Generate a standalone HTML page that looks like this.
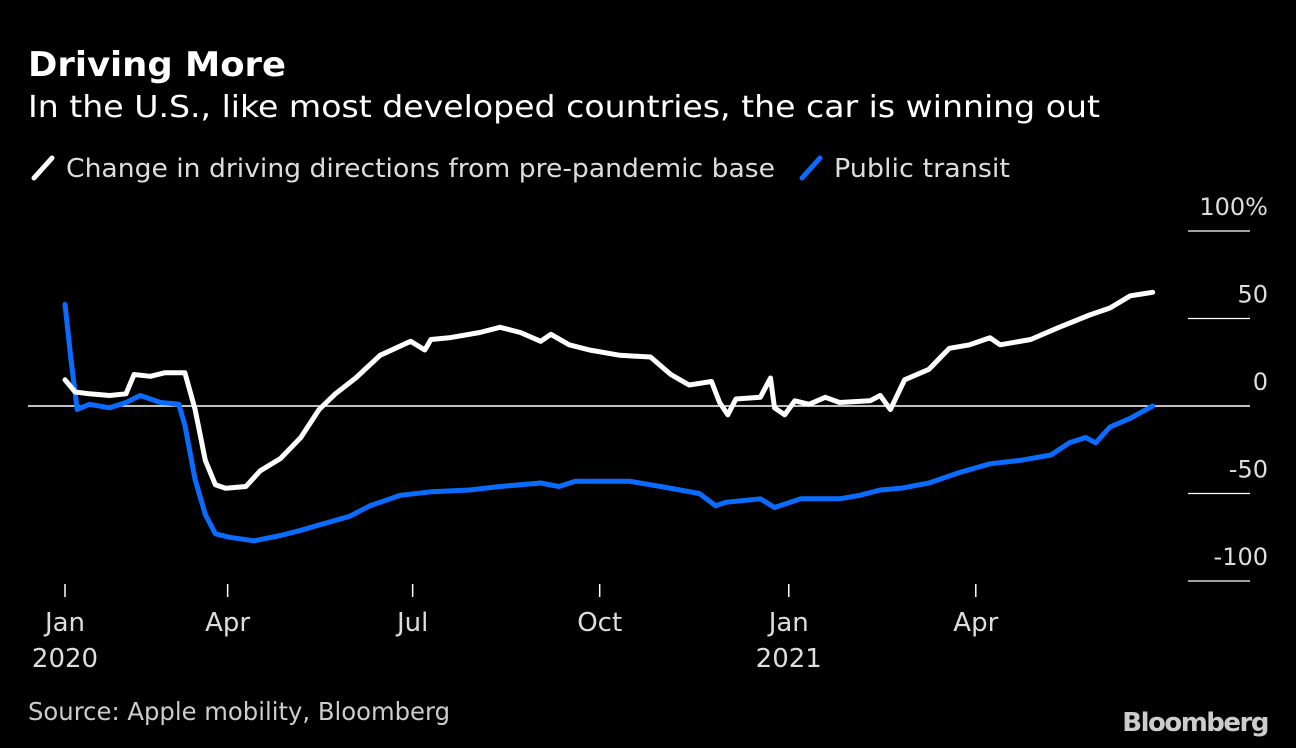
<!DOCTYPE html>
<html><head><meta charset="utf-8"><style>
body{margin:0;background:#000;width:1296px;height:748px;overflow:hidden;font-family:"DejaVu Sans","Liberation Sans",sans-serif;color:#fff}
svg{position:absolute;left:0;top:0}
</style></head><body>
<svg width="1296" height="748">
<text x="28" y="76" font-size="34" font-weight="bold" fill="#fff" textLength="258" lengthAdjust="spacingAndGlyphs">Driving More</text>
<text x="28" y="117" font-size="30" fill="#fff" textLength="1072" lengthAdjust="spacingAndGlyphs">In the U.S., like most developed countries, the car is winning out</text>
<g><line x1="34" y1="178" x2="52" y2="158" stroke="#fff" stroke-width="5" stroke-linecap="round"/><text x="66" y="177" font-size="26" fill="#ddd" textLength="709" lengthAdjust="spacingAndGlyphs">Change in driving directions from pre-pandemic base</text></g>
<g><line x1="802" y1="178" x2="820" y2="158" stroke="#0a6cff" stroke-width="5" stroke-linecap="round"/><text x="834" y="177" font-size="26" fill="#ddd" textLength="176" lengthAdjust="spacingAndGlyphs">Public transit</text></g>
<g id="axes"></g>
<g id="plot"></g>
<text x="28" y="720" font-size="25" fill="#ccc" textLength="422" lengthAdjust="spacingAndGlyphs">Source: Apple mobility, Bloomberg</text>
<text x="1268" y="731" font-size="26" font-weight="bold" fill="#ccc" text-anchor="end" letter-spacing="-1.5">Bloomberg</text>
</svg>
<script>
const yTicks=[100,50,0,-50,-100];
const yTickLabels=["100%","50","0","-50","-100"];
const xTickDays=[0,80,171,263,356,448];
const xTickLabels=["Jan","Apr","Jul","Oct","Jan","Apr"];
const xYearLabels=["2020","","","","2021",""];
const drivingDays=[0,5,12,22,30,34,42,49,59,64,69,74,79,89,96,106,116,125,133,143,155,170,177,180,189,204,214,224,234,239,248,258,273,288,298,307,318,322,326,330,342,347,349,354,359,366,374,381,396,401,406,413,425,435,445,455,460,475,489,504,514,524,535];
const drivingValues=[15,8,7,6,7,18,17,19,19,-2,-31,-45,-47,-46,-37,-30,-18,-2,7,16,29,37,32,38,39,42,45,42,37,41,35,32,29,28,18,12,14,2,-5,4,5,16,-1,-5,3,1,5,2,3,6,-2,15,21,33,35,39,35,38,45,52,56,63,65];
const transitDays=[0,3,6,12,22,30,37,47,56,59,64,69,74,81,93,106,116,125,140,150,165,180,199,214,234,243,251,278,293,312,320,325,342,349,362,381,391,401,411,425,440,455,470,485,494,502,507,514,524,535];
const transitValues=[58,26,-2,1,-1,2,6,2,1,-11,-42,-62,-73,-75,-77,-74,-71,-68,-63,-57,-51,-49,-48,-46,-44,-46,-43,-43,-46,-50,-57,-55,-53,-58,-53,-53,-51,-48,-47,-44,-38,-33,-31,-28,-21,-18,-21,-12,-7,0];
const X=d=>65+d*2.033;
const Y=v=>406-v*1.75;
const NS="http://www.w3.org/2000/svg";
const axes=document.getElementById('axes'),plot=document.getElementById('plot');
function mk(tag,attrs,parent){const e=document.createElementNS(NS,tag);for(const k in attrs)e.setAttribute(k,attrs[k]);parent.appendChild(e);return e;}
yTicks.forEach((v,i)=>{
  const l=mk('line',{x1:v===0?28:1188,x2:1250,y1:Y(v),y2:Y(v),stroke:'#fff','stroke-width':v===0?1.5:1.2},axes);
  
  
  const t=mk('text',{x:1268,y:Y(v)-16,'font-size':24,fill:'#ddd','text-anchor':'end'},axes);
  t.textContent=yTickLabels[i];
  
  
});
xTickDays.forEach((d,i)=>{
  const l=mk('line',{x1:X(d),x2:X(d),y1:584,y2:597,stroke:'#fff','stroke-width':1.5},axes);
  
  
  const t=mk('text',{x:X(d),y:631,'font-size':26,fill:'#ddd','text-anchor':'middle'},axes);
  t.textContent=xTickLabels[i];
  
  
  if(xYearLabels[i]){const y=mk('text',{x:X(d),y:667,'font-size':26,fill:'#ddd','text-anchor':'middle'},axes);
  y.textContent=xYearLabels[i];
  
  }
});
function line(days,vals,color,name){
  const p=mk('path',{d:days.map((d,i)=>(i?'L':'M')+X(d).toFixed(1)+','+Y(vals[i]).toFixed(1)).join(''),fill:'none',stroke:color,'stroke-width':5,'stroke-linejoin':'round','stroke-linecap':'round'},plot);
  
  
}
line(transitDays,transitValues,'#0a6cff','transit-line');
line(drivingDays,drivingValues,'#fff','driving-line');
</script>
</body></html>
